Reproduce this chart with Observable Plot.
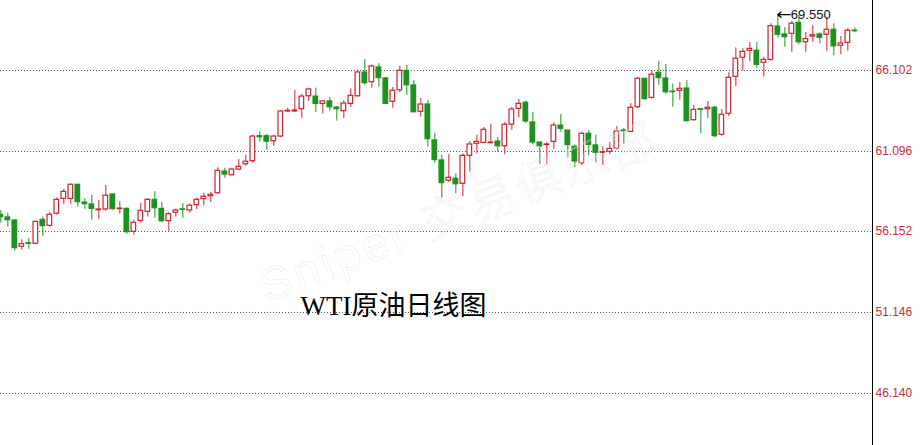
<!DOCTYPE html>
<html>
<head>
<meta charset="utf-8">
<script src="https://cdn.jsdelivr.net/npm/d3@7"></script>
<script src="https://cdn.jsdelivr.net/npm/@observablehq/plot@0.6"></script>
<style>
  html, body { margin: 0; padding: 0; background: #fff; }
  #chart { position: relative; width: 922px; height: 445px; overflow: hidden; }
  #wm {
    position: absolute; left: 458px; top: 208px;
    transform: translate(-50%, -50%) rotate(-21deg);
    white-space: nowrap; pointer-events: none;
    font-family: 'Liberation Sans', 'Noto Sans CJK SC', sans-serif;
    font-size: 46px; font-weight: 300; letter-spacing: 4px;
    color: rgba(255,255,255,0.35);
    -webkit-text-stroke: 1px rgba(0,0,0,0.075);
  }
</style>
</head>
<body>
<div id="chart"></div>
<script>
const open = [57.18,57.02,56.83,55.21,55.43,55.39,56.87,56.50,57.25,58.17,
58.17,59.04,57.94,57.82,57.47,57.51,58.44,57.54,57.55,56.13,
56.81,57.36,58.11,57.55,56.79,57.31,57.52,57.45,57.78,58.15,
58.33,58.52,59.86,59.63,59.98,60.31,60.50,62.04,62.04,61.73,
62.02,63.57,63.57,63.71,64.51,64.49,64.04,64.19,63.81,63.59,
64.04,64.51,65.98,65.38,66.29,65.61,64.17,64.88,66.08,65.18,
63.55,64.00,61.78,60.54,59.29,59.41,59.10,60.83,61.57,61.63,
61.61,61.71,61.42,62.75,63.73,64.11,62.89,61.65,61.49,61.69,
62.70,62.39,61.39,60.37,62.19,61.47,61.02,61.08,61.28,62.39,
62.31,63.83,65.59,64.41,65.96,65.61,64.80,64.85,64.99,63.03,
63.71,63.71,63.80,62.13,63.43,65.71,66.89,67.32,67.32,66.58,
66.76,68.82,68.33,68.37,69.05,67.85,68.20,68.33,68.31,68.62,
67.63,67.81,68.57];

const close = [57.04,56.85,55.12,55.37,55.39,56.75,56.48,57.18,58.11,58.60,
59.04,57.96,57.84,57.55,57.51,58.36,57.53,57.57,56.11,56.69,
57.43,58.11,57.59,56.79,57.22,57.45,57.49,57.74,58.11,58.30,
58.42,59.90,59.67,59.98,60.15,60.46,62.02,61.98,61.70,62.02,
63.57,63.61,63.63,64.49,64.93,64.04,64.19,63.83,63.71,64.06,
64.54,65.98,65.32,66.35,65.63,64.04,64.85,66.08,65.19,63.52,
64.00,61.86,60.56,59.14,59.47,59.07,60.83,61.53,61.69,62.44,
61.65,61.42,62.75,63.69,64.04,62.95,61.65,61.42,61.53,62.70,
62.50,61.49,60.48,62.19,61.51,61.02,61.05,61.26,62.33,62.35,
63.80,65.59,64.33,65.84,65.63,64.76,64.76,64.97,62.97,63.67,
63.67,63.80,62.04,63.36,65.65,66.83,67.26,67.44,66.45,66.76,
68.84,68.31,68.16,68.99,67.85,68.04,68.28,68.12,68.62,67.60,
67.77,68.56,68.53];

const high = [57.45,57.26,56.89,55.64,55.72,56.75,57.04,57.33,58.23,58.75,
59.10,59.04,58.19,58.38,58.07,58.99,58.44,57.99,57.62,56.87,
57.90,58.19,58.62,57.94,57.31,57.55,57.88,57.86,58.21,58.52,
58.58,60.09,60.06,60.06,60.60,60.87,62.10,62.33,62.15,62.10,
63.63,63.77,64.87,64.62,65.01,65.01,64.25,64.43,63.88,64.23,
64.97,66.14,66.78,66.45,66.52,65.67,65.05,66.37,66.41,65.48,
64.37,64.25,62.21,60.85,60.91,59.72,60.95,61.71,62.10,62.58,
62.78,61.96,62.89,63.83,64.31,64.19,63.51,61.65,61.65,62.87,
63.38,62.39,61.51,62.29,62.39,62.10,61.40,61.65,62.64,62.52,
64.06,65.67,65.59,66.08,66.66,66.47,65.26,65.36,65.48,63.94,
63.71,64.19,63.88,63.69,65.96,67.50,67.44,67.83,67.83,66.92,
68.99,69.55,68.76,69.13,69.50,68.45,68.88,68.43,69.40,68.99,
68.20,68.70,68.72];

const low = [56.66,56.42,54.93,55.00,55.06,55.33,55.86,56.42,57.16,57.84,
57.84,57.65,57.53,56.85,56.91,57.41,57.47,57.22,55.98,55.92,
56.66,57.04,56.97,56.69,56.17,57.04,56.97,57.28,57.51,57.72,
57.94,58.44,59.45,59.59,59.90,60.19,60.37,61.67,61.16,61.40,
61.94,63.49,63.51,63.15,64.19,63.51,63.40,63.59,62.97,63.13,
63.83,64.45,65.19,65.01,65.07,64.00,63.77,64.74,64.56,63.51,
63.22,61.36,60.37,58.21,59.18,58.48,58.31,59.82,60.95,61.57,
61.57,61.05,60.89,62.41,63.18,62.84,61.51,60.29,60.27,61.22,
62.29,60.68,60.09,60.23,60.83,60.40,60.25,60.91,61.20,61.55,
62.27,63.75,64.27,64.33,65.19,64.64,63.83,64.27,62.93,62.97,
62.19,63.13,61.94,62.04,63.26,65.11,66.08,66.66,66.23,65.69,
66.68,68.12,67.54,67.23,67.69,67.23,67.83,67.75,67.29,67.01,
67.07,67.29,68.43];

const yTicks = [66.102, 61.096, 56.152, 51.146, 46.140];
const title = "WTI原油日线图";
const watermark = "Sniper 交易俱乐部";

const RED = "#d2202e";
const GREEN = "#1b931f";

const data = open.map((o, i) => ({i, open: o, close: close[i], high: high[i], low: low[i], up: close[i] >= o}));
const peak = data.reduce((a, b) => (b.high > a.high ? b : a));

const chart = Plot.plot({
  width: 922,
  height: 445,
  marginLeft: 0,
  marginRight: 50,
  marginTop: 0,
  marginBottom: 0,
  style: {fontFamily: "'Liberation Sans', Arial, sans-serif", fontSize: "12px", background: "#fff"},
  x: {domain: [-0.047, 124.52], axis: null},
  y: {domain: [42.925, 70.428], axis: null},
  marks: [
    Plot.gridY(yTicks, {stroke: "#555", strokeOpacity: 1, strokeDasharray: "1,2"}),
    Plot.axisY(yTicks, {anchor: "right", tickSize: 0, tickPadding: 3, tickFormat: d => d.toFixed(3), color: "#cc2a36", fill: "#cc2a36", fontSize: 12}),
    Plot.frame({anchor: "right", stroke: "#000"}),
    Plot.ruleX(data, {x: "i", y1: "low", y2: "high", stroke: d => d.up ? RED : GREEN, strokeWidth: 1}),
    Plot.rect(data, {x1: d => d.i - 0.33, x2: d => d.i + 0.33, y1: "open", y2: "close",
      fill: d => d.up ? "#fff" : GREEN, stroke: d => d.up ? RED : GREEN, strokeWidth: 1.2}),
    Plot.arrow([peak], {x1: d => d.i + 1.75, x2: d => d.i, y1: "high", y2: "high", stroke: "#000", strokeWidth: 1.3, headLength: 6, headAngle: 80, bend: 0}),
    Plot.text([peak], {x: "i", y: "high", text: d => d.high.toFixed(3), dx: 13, textAnchor: "start", fontSize: 13, fill: "#111"}),
    Plot.text([title], {frameAnchor: "top-left", dx: 300, dy: 306, textAnchor: "start", lineAnchor: "middle", fontSize: 27,
      fontFamily: "'Liberation Serif','Noto Sans CJK SC',serif", fill: "#000"})
  ]
});
const host = document.getElementById("chart");
host.appendChild(chart);
const wm = document.createElement("div");
wm.id = "wm";
wm.textContent = watermark;
host.appendChild(wm);
</script>
</body>
</html>
